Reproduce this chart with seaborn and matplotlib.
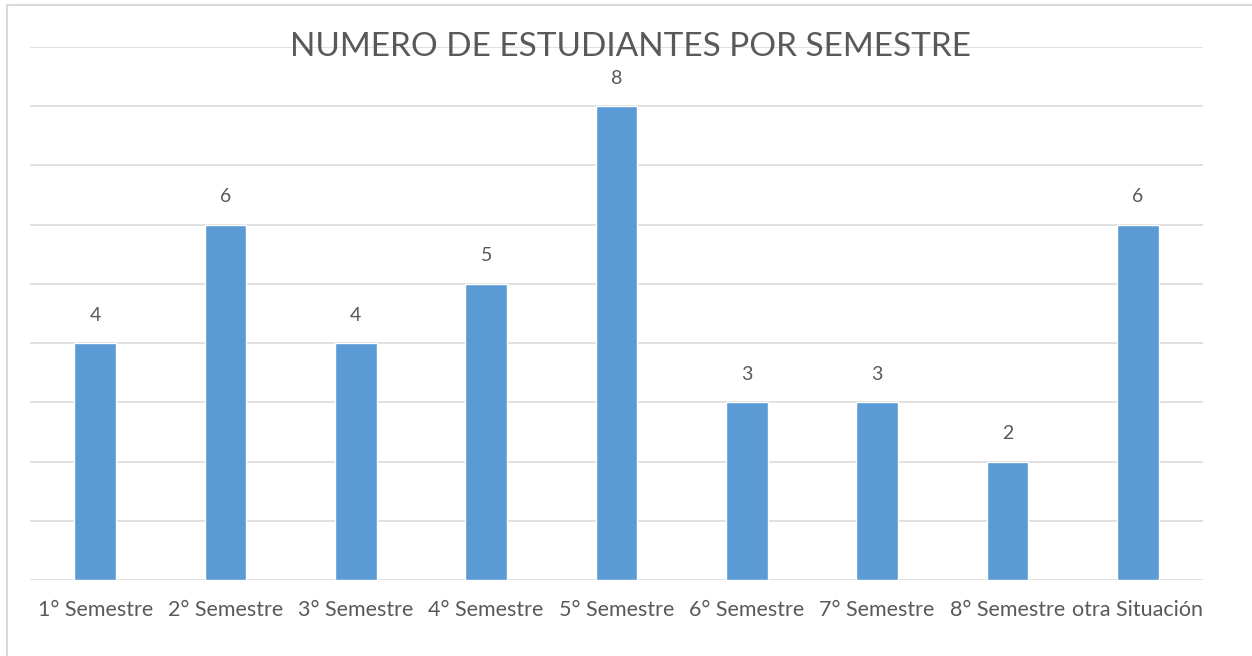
import pandas as pd
import seaborn as sns
import matplotlib.pyplot as plt
from matplotlib.patches import Rectangle

# data
semestres = ['1° Semestre', '2° Semestre', '3° Semestre', '4° Semestre', '5° Semestre',
             '6° Semestre', '7° Semestre', '8° Semestre', 'otra Situación']
estudiantes = [4, 6, 4, 5, 8, 3, 3, 2, 6]
titulo = 'NUMERO DE ESTUDIANTES POR SEMESTRE'

df = pd.DataFrame({'Semestre': semestres, 'Estudiantes': estudiantes})

sns.set_style('white')
plt.rcParams['font.family'] = ['Lato', 'DejaVu Sans']

gris = '#595959'
fig = plt.figure(figsize=(12.52, 6.56), dpi=100)
ax = fig.add_axes([30/1252, 1 - 580/656, 1173/1252, 533/656])

sns.barplot(data=df, x='Semestre', y='Estudiantes', color='#5B9BD5',
            width=0.32, saturation=1, ax=ax, zorder=3)

ax.set_ylim(0, 9)
ax.set_xlim(-0.5, len(semestres) - 0.5)
ax.set_yticks(range(0, 10))
ax.yaxis.grid(True, color='#D9D9D9', linewidth=1.1, zorder=0)
ax.set_axisbelow(True)
for s in ['top', 'right', 'left', 'bottom']:
    ax.spines[s].set_visible(False)
ax.tick_params(axis='y', left=False, labelleft=False)
ax.tick_params(axis='x', bottom=False, pad=11, labelsize=15.5, labelcolor=gris)
ax.set_xlabel('')
ax.set_ylabel('')

for i, v in enumerate(estudiantes):
    ax.annotate(str(v), (i, v), xytext=(0, 14), textcoords='offset points',
                ha='center', va='bottom', fontsize=14, color=gris)

fig.text(630/1252, 1 - 47/656, titulo, ha='center', va='center',
         fontsize=24, color=gris, fontweight='normal')

# outer chart border like the spreadsheet frame
fig.patches.append(Rectangle((7/1252, -0.1), 1.2, 1 - 5/656 + 0.1,
                             transform=fig.transFigure, fill=False,
                             edgecolor='#D9D9D9', linewidth=1.5))

fig.savefig('out.png', dpi=100, facecolor='white')
